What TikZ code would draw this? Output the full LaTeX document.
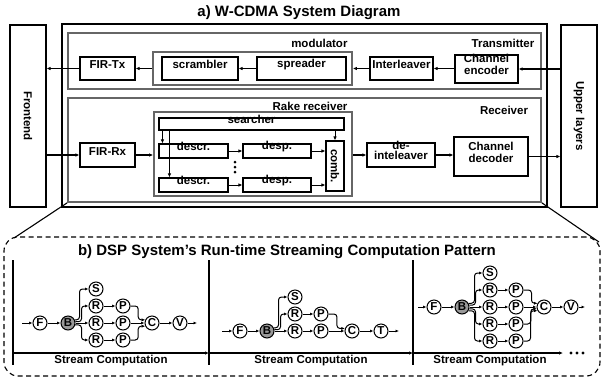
\documentclass[tikz,border=0pt]{standalone}
\usepackage{fontspec}
\setmainfont{Liberation Sans}
\usetikzlibrary{arrows.meta,fit}
\tikzset{
 fs/.style={font=\fontsize{11.5}{12}\selectfont\bfseries},
 blk/.style={draw, line width=1.1pt, inner sep=0pt, fill=white, align=center, fs},
 grp/.style={draw=black!60, line width=1.7pt, inner sep=0pt},
 frame/.style={draw, line width=1.1pt, inner sep=0pt},
 arr/.style={line width=1.1pt, -{Latex[length=4pt,width=3.5pt]}},
 gn/.style={circle, draw, line width=1pt, minimum size=14pt, inner sep=0pt, fill=white, font=\fontsize{11.5}{12}\selectfont\bfseries},
 gb/.style={gn, fill=black!40},
 garr/.style={line width=1pt, -{Latex[length=3.5pt,width=3pt]}, rounded corners=3pt},
 thin/.style={line width=0.9pt},
}
\begin{document}
\begin{tikzpicture}[x=1pt,y=-1pt]
\useasboundingbox (0,0) rectangle (602,381);
% ---------- a) ----------
\node[font=\fontsize{15}{16}\selectfont\bfseries] (ta) at (299,13) {a) W-CDMA System Diagram};
\node[frame, fit={(10,25) (46,207)}] (front) {};
\node[fs, rotate=-90] (lfront) at (28,116) {Frontend};
\node[frame, fit={(561,25) (597,207)}] (upper) {};
\node[fs, rotate=-90] (lupper) at (579,116) {Upper layers};
\node[frame, fit={(62,24) (547,207)}] (outer) {};
\node[grp, fit={(68,33) (541,89)}] (tx) {};
\node[grp, fit={(68,98) (541,202)}] (rx) {};
\node[fs] (ltx) at (503,43) {Transmitter};
\node[fs, anchor=east] (lmod) at (351,43) {modulator};
\node[grp, fit={(153,52) (352,85)}] (mod) {};
\node[blk, fit={(80,57) (135,80)}] (firtx) {FIR-Tx};
\node[blk, fit={(162,57) (238,80)}] (scr) {scrambler};
\node[blk, fit={(257,57) (346,80)}] (spr) {spreader};
\node[blk, fit={(370,57) (433,80)}] (intl) {Interleaver};
\node[blk, fit={(455,55) (518,83)}] (enc) {Channel\\encoder};
\draw[arr] (firtx.west) -- (firtx.west -| front.east);
\draw[arr] (mod.west |- firtx.east) -- (firtx.east);
\draw[arr] (spr.west) -- (scr.east);
\draw[arr] (intl.west) -- (intl.west -| mod.east);
\draw[arr] (enc.west |- intl.east) -- (intl.east);
\draw[arr] (upper.west |- enc.east) -- (enc.east);
% receiver
\node[fs] (lrx) at (504,110) {Receiver};
\node[fs, anchor=east] (lrake) at (351,106) {Rake receiver};
\node[grp, fit={(154,112) (352,196)}] (rake) {};
\node[blk, fit={(159,118) (344,130)}] (srch) {searcher};
\node[blk, fit={(159,144) (228,158)}] (dc1) {descr.};
\node[blk, fit={(159,178) (228,192)}] (dc2) {descr.};
\node[blk, fit={(243,144) (311,158)}] (ds1) {desp.};
\node[blk, fit={(243,178) (311,192)}] (ds2) {desp.};
\node[blk, fit={(326,141) (344,191)}] (comb) {};
\node[fs, rotate=-90] (lcomb) at (comb.center) {comb.};
\node[blk, fit={(80,143) (135,167)}] (firrx) {FIR-Rx};
\node[blk, fit={(367,143) (435,167)}, font=\fontsize{11.5}{10}\selectfont\bfseries] (deint) {de-\\inteleaver};
\node[blk, fit={(454,137) (528,176)}] (dec) {Channel\\decoder};
\foreach \yy in {162,167,172} \fill (235,\yy) circle (1.5pt);
\draw[arr] (front.east |- firrx.west) -- (firrx.west);
\draw[arr] (firrx.east) -- (firrx.east -| rake.west);
\draw[arr] (rake.east |- deint.west) -- (deint.west);
\draw[arr] (deint.east) -- (deint.east -| dec.west);
\draw[arr] (dec.east) -- (dec.east -| upper.west);
\draw[arr, thin] ([xshift=4pt]srch.south west) -- ([xshift=4pt]dc1.north west);
\draw[arr, thin] ([xshift=11pt]srch.south west) -- ([xshift=11pt]dc2.north west);
\draw[arr, thin] (comb.north |- srch.south) -- (comb.north);
\draw[arr, thin] (dc1.east) -- (ds1.west);
\draw[arr, thin] (dc2.east) -- (ds2.west);
\draw[arr, thin] (ds1.east) -- (ds1.east -| comb.west);
\draw[arr, thin] (ds2.east) -- (ds2.east -| comb.west);
% ---------- b) ----------
\node[draw, dashed, dash pattern=on 5pt off 3.5pt, line width=1.1pt, rounded corners=14pt, inner sep=0pt, fit={(4,237) (600,376)}] (dbox) {};
\coordinate (zl) at (14,238);
\coordinate (zr) at (599,242);
\draw[line width=1.1pt] (rx.south west) -- (zl);
\draw[line width=1.1pt] (rx.south east) -- (zr);
\node[font=\fontsize{15}{16}\selectfont\bfseries] (tb) at (287,252) {b) DSP System’s Run-time Streaming Computation Pattern};
\coordinate (d0t) at (13,260); \coordinate (d0b) at (13,365);
\coordinate (d1t) at (209,260); \coordinate (d1b) at (209,365);
\coordinate (d2t) at (413,260); \coordinate (d2b) at (413,365);
\draw[line width=1.1pt] (d0t) -- (d0b);
\draw[line width=1.1pt] (d1t) -- (d1b);
\draw[line width=1.1pt] (d2t) -- (d2b);
\coordinate (a0) at (13,353); \coordinate (a1) at (209,353);
\coordinate (a2) at (413,353); \coordinate (a3) at (563,353);
\draw[arr] (a0) -- (a1);
\draw[arr] (a1) -- (a2);
\draw[arr] (a2) -- (a3);
\foreach \xx in {571,577,583} \fill (\xx,353) circle (1.6pt);
\node[fs] (sc1) at (111,361) {Stream Computation};
\node[fs] (sc2) at (311,361) {Stream Computation};
\node[fs] (sc3) at (490,361) {Stream Computation};
% graph 1
\node[gn] (F1) at (40,323) {F};
\node[gb] (B1) at (68,323) {B};
\node[gn] (S1) at (96,289) {S};
\node[gn] (R11) at (96,306) {R};
\node[gn] (R12) at (96,323) {R};
\node[gn] (R13) at (96,340) {R};
\node[gn] (P11) at (123,306) {P};
\node[gn] (P12) at (123,323) {P};
\node[gn] (P13) at (123,340) {P};
\node[gn] (C1) at (152,323) {C};
\node[gn] (V1) at (180,323) {V};
\coordinate (i1) at (22,323); \coordinate (o1) at (197,323);
\draw[garr] (i1) -- (F1);
\draw[garr] (F1) -- (B1);
\draw[garr] (B1.25) -| ([xshift=-9pt]S1.west) -- (S1.west);
\draw[garr] (B1.10) -| ([xshift=-7pt]R11.west) -- (R11.west);
\draw[garr] (B1) -- (R12);
\draw[garr] (B1.-15) -| ([xshift=-7pt]R13.west) -- (R13.west);
\foreach \i in {1,2,3} \draw[garr] (R1\i) -- (P1\i);
\draw[garr] (P11.east) -| ([xshift=-7pt]C1.155) -- (C1.155);
\draw[garr] (P12) -- (C1);
\draw[garr] (P13.east) -| ([xshift=-7pt]C1.205) -- (C1.205);
\draw[garr] (C1) -- (V1);
\draw[garr] (V1) -- (o1);
% graph 2
\node[gn] (F2) at (240,331) {F};
\node[gb] (B2) at (267,331) {B};
\node[gn] (S2) at (295,297) {S};
\node[gn] (R21) at (295,314) {R};
\node[gn] (R22) at (295,331) {R};
\node[gn] (P21) at (321,314) {P};
\node[gn] (P22) at (321,331) {P};
\node[gn] (C2) at (352,331) {C};
\node[gn] (T2) at (381,331) {T};
\coordinate (i2) at (222,331); \coordinate (o2) at (399,331);
\draw[garr] (i2) -- (F2);
\draw[garr] (F2) -- (B2);
\draw[garr] (B2.25) -| ([xshift=-9pt]S2.west) -- (S2.west);
\draw[garr] (B2.10) -| ([xshift=-7pt]R21.west) -- (R21.west);
\draw[garr] (B2) -- (R22);
\foreach \i in {1,2} \draw[garr] (R2\i) -- (P2\i);
\draw[garr] (P21.east) -| ([xshift=-8pt]C2.160) -- (C2.160);
\draw[garr] (P22) -- (C2);
\draw[garr] (C2) -- (T2);
\draw[garr] (T2) -- (o2);
% graph 3
\node[gn] (F3) at (434,307) {F};
\node[gb] (B3) at (462,307) {B};
\node[gn] (S3) at (490,273) {S};
\node[gn] (R31) at (490,290) {R};
\node[gn] (R32) at (490,307) {R};
\node[gn] (R33) at (490,324) {R};
\node[gn] (R34) at (490,341) {R};
\node[gn] (P31) at (516,290) {P};
\node[gn] (P32) at (516,307) {P};
\node[gn] (P33) at (516,324) {P};
\node[gn] (P34) at (516,341) {P};
\node[gn] (C3) at (544,307) {C};
\node[gn] (V3) at (571,307) {V};
\coordinate (i3) at (418,307); \coordinate (o3) at (585,307);
\draw[garr] (i3) -- (F3);
\draw[garr] (F3) -- (B3);
\draw[garr] (B3.30) -| ([xshift=-8pt]S3.west) -- (S3.west);
\draw[garr] (B3.15) -| ([xshift=-7pt]R31.west) -- (R31.west);
\draw[garr] (B3) -- (R32);
\draw[garr] (B3.-15) -| ([xshift=-7pt]R33.west) -- (R33.west);
\draw[garr] (B3.-30) -| ([xshift=-8pt]R34.west) -- (R34.west);
\foreach \i in {1,2,3,4} \draw[garr] (R3\i) -- (P3\i);
\draw[garr] (P31.east) -| ([xshift=-6pt]C3.150) -- (C3.150);
\draw[garr] (P32) -- (C3);
\draw[garr] (P33.east) -| ([xshift=-6pt]C3.195) -- (C3.195);
\draw[garr] (P34.east) -| ([xshift=-7pt]C3.210) -- (C3.210);
\draw[garr] (C3) -- (V3);
\draw[garr] (V3) -- (o3);
\end{tikzpicture}
\end{document}
